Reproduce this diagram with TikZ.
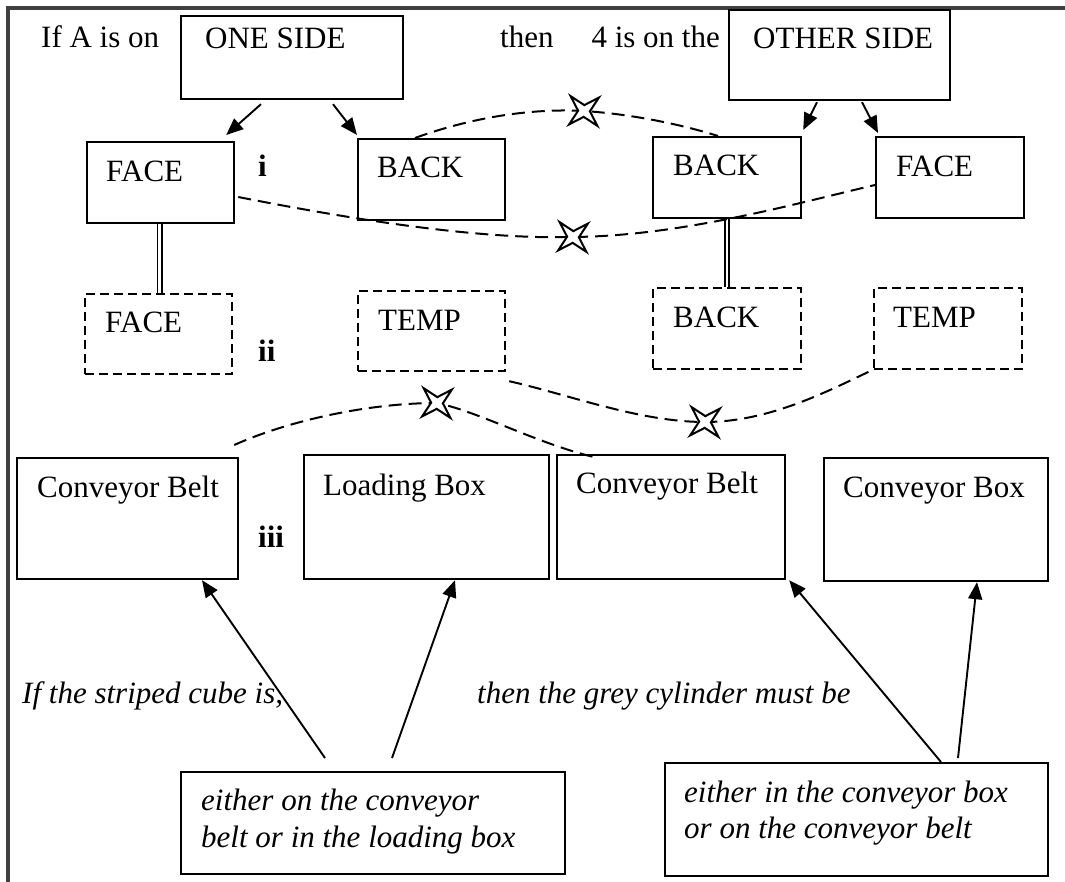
\documentclass[tikz,border=0pt]{standalone}
\usepackage{fontspec}
\setmainfont{Liberation Serif}
\usetikzlibrary{shapes.geometric,arrows.meta,calc}
\begin{document}
\begin{tikzpicture}[x=1pt,y=-1pt,
 box/.style={draw,line width=2.2pt,rectangle,inner sep=0pt,anchor=north west},
 dbox/.style={box,dash pattern=on 9pt off 5pt},
 txt/.style={inner sep=0pt,anchor=base west,font=\fontsize{31}{36}\selectfont},
 itxt/.style={inner sep=0pt,anchor=base west,font=\fontsize{31}{36}\selectfont\itshape},
 btxt/.style={inner sep=0pt,anchor=base west,font=\fontsize{31}{36}\selectfont\bfseries},
 arr/.style={line width=1.9pt,-{Triangle[length=17pt,width=14pt]}},
 dline/.style={line width=2pt,dash pattern=on 13pt off 7pt},
 dbl/.style={double,double distance=2.4pt,line width=1.7pt},
 xstar/.style={star,star points=4,star point ratio=3.4,minimum size=40pt,inner sep=0pt,draw,fill=white,line width=2pt,shape border rotate=42},
]
\useasboundingbox (0,0) rectangle (1065,882);
\draw[line width=3.2pt,color=black!75] (8,882) -- (8,8) -- (1065,8);

% top row
\node[box,minimum width=222pt,minimum height=83pt] (one) at (180,15) {};
\node[box,minimum width=221pt,minimum height=90pt] (other) at (728,9) {};
\node[box,minimum width=147pt,minimum height=81pt] (faceL) at (86,141) {};
\node[box,minimum width=147pt,minimum height=81pt] (backL) at (357,138) {};
\node[box,minimum width=148pt,minimum height=81pt] (backR) at (652,136) {};
\node[box,minimum width=148pt,minimum height=81pt] (faceR) at (875,136) {};

% dashed row
\node[dbox,minimum width=147pt,minimum height=80pt] (faceD) at (84,293) {};
\node[dbox,minimum width=147pt,minimum height=80pt] (tempL) at (357,290) {};
\node[dbox,minimum width=148pt,minimum height=81pt] (backD) at (652,287) {};
\node[dbox,minimum width=148pt,minimum height=81pt] (tempR) at (873,287) {};

% third row
\node[box,minimum width=221pt,minimum height=121pt] (cbL) at (16,457) {};
\node[box,minimum width=245pt,minimum height=124pt] (lb) at (303,454) {};
\node[box,minimum width=228pt,minimum height=124pt] (cbR) at (556,454) {};
\node[box,minimum width=224pt,minimum height=123pt] (cbx) at (823,457) {};

% bottom boxes
\node[box,minimum width=384pt,minimum height=102pt] (botL) at (180,771) {};
\node[box,minimum width=383pt,minimum height=113pt] (botR) at (664,762) {};

% texts
\node[txt] (t1) at (41,48) {If A is on};
\node[txt] (t2) at (205,49) {ONE SIDE};
\node[txt] (t3) at (500,48) {then\hspace{38pt}4 is on the};
\node[txt] (t4) at (753,49) {OTHER SIDE};
\node[txt] (t5) at (106,182) {FACE};
\node[txt] (t6) at (377,178) {BACK};
\node[txt] (t7) at (673,176) {BACK};
\node[txt] (t8) at (896,177) {FACE};
\node[btxt] (r1) at (258,177) {i};
\node[txt] (t9) at (105,333) {FACE};
\node[txt] (t10) at (378,331) {TEMP};
\node[txt] (t11) at (673,328) {BACK};
\node[txt] (t12) at (893,328) {TEMP};
\node[btxt] (r2) at (258,362) {ii};
\node[txt] (t13) at (37,497) {Conveyor Belt};
\node[txt] (t14) at (323,495) {Loading Box};
\node[txt] (t15) at (576,493) {Conveyor Belt};
\node[txt] (t16) at (843,497) {Conveyor Box};
\node[btxt] (r3) at (258,547) {iii};
\node[itxt] (t17) at (22,703) {If the striped cube is,};
\node[itxt] (t18) at (477,703) {then the grey cylinder must be};
\node[itxt] (t19) at (201,810) {either on the conveyor};
\node[itxt] (t20) at (201,847) {belt or in the loading box};
\node[itxt] (t21) at (684,802) {either in the conveyor box};
\node[itxt] (t22) at (684,838) {or on the conveyor belt};

% arrows top
\draw[arr] ([shift={(81,4)}]one.south west) -- ([shift={(-9,-6)}]faceL.north east);
\draw[arr] ([shift={(153,4)}]one.south west) -- ([shift={(0,-3)}]backL.north west);
\draw[arr] ([shift={(89,1)}]other.south west) -- ([shift={(1,-6)}]backR.north east);
\draw[arr] ([shift={(134,1)}]other.south west) -- ([shift={(3,-3)}]faceR.north west);

% double links
\draw[dbl] ([xshift=-1pt]faceL.south) -- ([xshift=1pt]faceD.north);
\draw[dbl] (backR.south) -- (backD.north);

% bottom arrows
\draw[arr] ([shift={(145,-13)}]botL.north west) -- ([shift={(186,0)}]cbL.south west);
\draw[arr] ([shift={(212,-13)}]botL.north west) -- ([shift={(152,0)}]lb.south west);
\draw[arr] ([shift={(277,0)}]botR.north west) -- ([shift={(3,0)}]cbR.south east);
\draw[arr] ([shift={(294,-4)}]botR.north west) -- ([shift={(154,0)}]cbx.south west);

% star points
\coordinate (p1) at (584,111);
\coordinate (p2) at (573,237);
\coordinate (p3) at (437,403);
\coordinate (p4) at (705,422);

% dashed curves
\draw[dline] ([shift={(58,0)}]backL.north west) .. controls (470,118) and (530,108) .. (p1)
  .. controls (630,114) and (680,124) .. ([shift={(66,0)}]backR.north west);
\draw[dline] ([shift={(3,56)}]faceL.north east) .. controls (330,215) and (470,240) .. (p2)
  .. controls (680,236) and (790,205) .. ([shift={(0,49)}]faceR.north west);
\draw[dline] ([shift={(-5,-12)}]cbL.north east) .. controls (290,420) and (370,403) .. (p3)
  .. controls (480,412) and (540,445) .. ([shift={(42,4)}]cbR.north west);
\draw[dline] ([shift={(3,9)}]tempL.south east) .. controls (570,395) and (640,422) .. (p4)
  .. controls (770,422) and (830,390) .. ([shift={(-1,0)}]tempR.south west);

% stars
\node[xstar] (s1) at (p1) {};
\node[xstar] (s2) at (p2) {};
\node[xstar] (s3) at (p3) {};
\node[xstar] (s4) at (p4) {};
\end{tikzpicture}
\end{document}
